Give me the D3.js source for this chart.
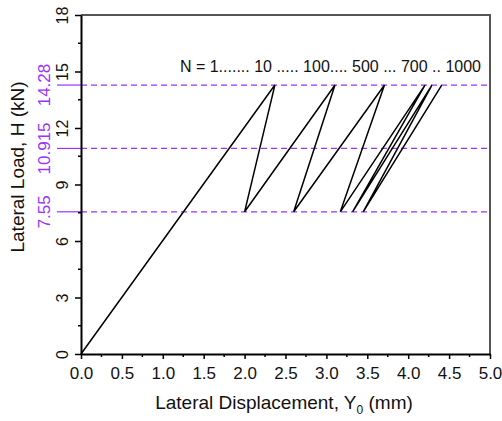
<!DOCTYPE html>
<html>
<head>
<meta charset="utf-8">
<script src="https://cdn.jsdelivr.net/npm/d3@7"></script>
<style>
  body { margin: 0; background: #fff; }
  svg text { font-family: "Liberation Sans", Arial, sans-serif; }
</style>
</head>
<body>
<div id="chart"></div>
<script>
// load path (cycles N = 1, 10, 100, 500, 700, 1000)
var dispX = [0, 2.37, 2.0, 3.105, 2.6, 3.71, 3.17, 4.205, 3.32, 4.29, 3.45, 4.41];
var loadY = [0, 14.28, 7.55, 14.28, 7.55, 14.28, 7.55, 14.28, 7.55, 14.28, 7.55, 14.28];
var levels = [7.55, 10.915, 14.28];
var levelLabels = ["7.55", "10.915", "14.28"];
var xTicks = [0, 0.5, 1, 1.5, 2, 2.5, 3, 3.5, 4, 4.5, 5];
var yTicks = [0, 3, 6, 9, 12, 15, 18];
var note = "N = 1....... 10 ..... 100.... 500 ... 700 .. 1000";

var width = 502, height = 421;
var margin = {top: 15, right: 12, bottom: 67, left: 81};
var purple = "#9933ff";

var svg = d3.select('#chart').append('svg')
    .attr('width', width)
    .attr('height', height);

var x = d3.scaleLinear().domain([0, 5]).range([margin.left, width - margin.right]);
var y = d3.scaleLinear().domain([0, 18]).range([height - margin.bottom, margin.top]);

// frame top / right
svg.append('path')
    .attr('d', 'M' + x(0) + ',' + y(18) + 'H' + x(5) + 'V' + y(0))
    .attr('fill', 'none')
    .attr('stroke', '#555')
    .attr('stroke-width', 2);

// purple reference levels
levels.forEach(function(v, i) {
    svg.append('line')
        .attr('x1', x(0) - 24).attr('x2', x(0))
        .attr('y1', y(v)).attr('y2', y(v))
        .attr('stroke', purple).attr('stroke-width', 1.2);
    svg.append('line')
        .attr('x1', x(0)).attr('x2', x(5))
        .attr('y1', y(v)).attr('y2', y(v))
        .attr('stroke', purple).attr('stroke-width', 1.2)
        .attr('stroke-dasharray', '6,4');
    svg.append('text')
        .attr('transform', 'translate(' + 50 + ',' + y(v) + ') rotate(-90)')
        .attr('text-anchor', 'middle')
        .attr('fill', purple)
        .attr('font-size', 17)
        .text(levelLabels[i]);
});

// minor ticks
var xMinor = d3.range(0.25, 5, 0.5);
var yMinor = d3.range(1.5, 18, 3);
svg.append('g').selectAll('line').data(xMinor).enter().append('line')
    .attr('x1', function(d) { return x(d); }).attr('x2', function(d) { return x(d); })
    .attr('y1', y(0)).attr('y2', y(0) + 3)
    .attr('stroke', '#000').attr('stroke-width', 1.5);
svg.append('g').selectAll('line').data(yMinor).enter().append('line')
    .attr('y1', function(d) { return y(d); }).attr('y2', function(d) { return y(d); })
    .attr('x1', x(0)).attr('x2', x(0) - 3)
    .attr('stroke', '#000').attr('stroke-width', 1.5);

// x axis
var gx = svg.append('g')
    .attr('transform', 'translate(0,' + y(0) + ')')
    .call(d3.axisBottom(x).tickValues(xTicks).tickFormat(d3.format('.1f')).tickSize(5).tickSizeOuter(0));
gx.select('.domain').attr('stroke-width', 2);
gx.selectAll('.tick line').attr('stroke-width', 1.5);
gx.selectAll('text').attr('font-size', 17).attr('fill', '#111').attr('y', 25).attr('dy', 0);

// y axis
var gy = svg.append('g')
    .attr('transform', 'translate(' + x(0) + ',0)')
    .call(d3.axisLeft(y).tickValues(yTicks).tickSize(6).tickSizeOuter(0));
gy.select('.domain').attr('stroke-width', 2);
gy.selectAll('.tick line').attr('stroke-width', 1.5);
gy.selectAll('text')
    .attr('font-size', 16).attr('fill', '#111')
    .attr('x', null)
    .attr('text-anchor', 'middle')
    .attr('transform', 'translate(-19,0) rotate(-90)')
    .attr('dy', '0.35em');

// load-displacement path
var line = d3.line()
    .x(function(d) { return x(d[0]); })
    .y(function(d) { return y(d[1]); });
svg.append('path')
    .datum(d3.zip(dispX, loadY))
    .attr('d', line)
    .attr('fill', 'none')
    .attr('stroke', '#000')
    .attr('stroke-width', 1.5)
    .attr('stroke-linejoin', 'miter');

// cycle note
svg.append('text')
    .attr('x', 481).attr('y', 72)
    .attr('text-anchor', 'end')
    .attr('font-size', 16)
    .attr('fill', '#111')
    .text(note);

// axis titles
var xt = svg.append('text')
    .attr('x', 284).attr('y', 409)
    .attr('text-anchor', 'middle')
    .attr('font-size', 19)
    .attr('fill', '#111');
xt.append('tspan').text('Lateral Displacement, Y');
xt.append('tspan').attr('font-size', 12).attr('dy', 5).text('0');
xt.append('tspan').attr('dy', -5).text(' (mm)');

svg.append('text')
    .attr('transform', 'translate(24,167) rotate(-90)')
    .attr('text-anchor', 'middle')
    .attr('font-size', 19)
    .attr('fill', '#111')
    .text('Lateral Load, H (kN)');
</script>
</body>
</html>
